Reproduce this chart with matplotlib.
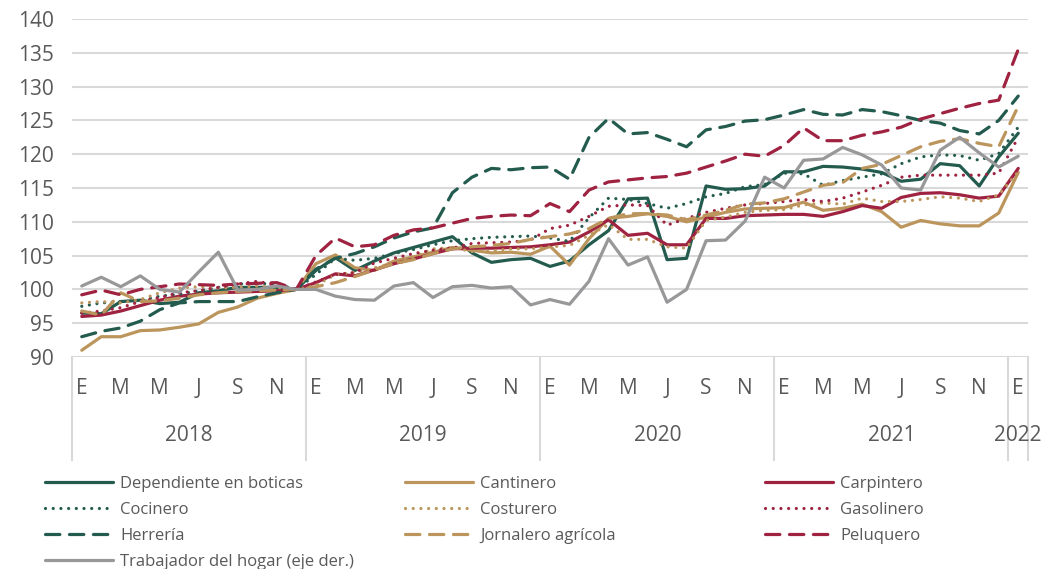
import numpy as np
import matplotlib
matplotlib.use('Agg')
import matplotlib.pyplot as plt

plt.rcParams['font.family'] = ['Open Sans', 'DejaVu Sans']

# meses 2018-01 ... 2022-01 (indice dic 2018 = 100)
meses = ['E', 'F', 'M', 'A', 'M', 'J', 'J', 'A', 'S', 'O', 'N', 'D'] * 4 + ['E']
anios = ['2018', '2019', '2020', '2021', '2022']

dependiente = [96.5, 96.4, 98.2, 98.4, 97.9, 98.1, 99.5, 99.8, 100.3, 100.3, 100.3, 100.0,
               102.8, 104.7, 102.8, 104.2, 105.4, 106.2, 107.0, 107.8, 105.4, 104.0, 104.4, 104.6,
               103.4, 104.2, 106.6, 108.7, 113.4, 113.5, 104.4, 104.6, 115.3, 114.8, 114.9, 115.3,
               117.4, 117.4, 118.2, 118.1, 117.8, 117.3, 116.0, 116.3, 118.6, 118.3, 115.3, 119.6, 123.1]
cantinero = [91.0, 93.0, 93.0, 93.9, 94.0, 94.4, 94.9, 96.6, 97.4, 98.7, 99.4, 100.0,
             103.8, 105.1, 103.2, 102.8, 104.2, 104.8, 105.5, 106.2, 105.8, 105.4, 105.5, 105.2,
             106.4, 103.6, 107.5, 110.5, 110.8, 111.2, 110.8, 110.0, 110.7, 111.4, 111.9, 112.0,
             112.1, 112.9, 111.7, 112.0, 112.6, 111.5, 109.2, 110.2, 109.7, 109.4, 109.4, 111.3, 117.3]
carpintero = [96.0, 96.2, 96.8, 97.6, 98.4, 99.0, 99.3, 99.5, 99.6, 99.7, 99.8, 100.0,
              101.0, 102.3, 102.0, 102.9, 103.8, 104.5, 105.3, 106.0, 106.1, 106.1, 106.2, 106.3,
              106.6, 107.0, 108.5, 110.3, 108.0, 108.3, 106.6, 106.6, 110.5, 110.5, 110.9, 111.0,
              111.1, 111.1, 110.8, 111.5, 112.4, 112.0, 113.6, 114.2, 114.3, 114.0, 113.5, 113.8, 117.9]
cocinero = [97.5, 98.0, 98.2, 98.3, 99.0, 99.3, 99.8, 100.3, 100.8, 100.9, 100.8, 100.0,
            102.2, 104.6, 104.3, 104.6, 105.3, 105.9, 106.6, 107.2, 107.5, 107.7, 107.8, 107.9,
            107.6, 107.1, 110.6, 113.5, 113.3, 112.7, 112.0, 112.7, 113.7, 114.2, 115.2, 115.5,
            117.2, 117.1, 115.4, 116.1, 116.6, 117.1, 118.6, 119.6, 119.9, 119.8, 119.1, 120.1, 124.0]
costurero = [98.0, 98.2, 98.0, 98.5, 99.5, 100.2, 100.4, 100.2, 100.3, 100.5, 100.3, 100.0,
             100.6, 102.2, 102.5, 103.2, 103.8, 104.8, 106.0, 106.2, 105.6, 105.7, 106.0, 106.0,
             106.3, 106.5, 108.0, 109.6, 107.4, 107.4, 106.3, 106.1, 110.2, 110.7, 111.4, 111.7,
             111.8, 112.5, 112.8, 112.6, 113.5, 113.0, 113.0, 113.3, 113.7, 113.5, 113.0, 114.0, 117.4]
gasolinero = [96.5, 96.8, 97.3, 98.2, 98.8, 99.5, 99.8, 100.3, 100.8, 101.2, 100.6, 100.0,
              101.1, 102.2, 102.5, 103.9, 104.6, 105.3, 105.8, 106.1, 106.8, 106.9, 107.0, 107.3,
              109.0, 109.5, 110.8, 112.3, 112.5, 112.4, 109.5, 110.5, 111.4, 112.0, 112.5, 112.7,
              113.0, 113.3, 113.0, 113.5, 114.4, 115.4, 116.6, 116.9, 116.9, 116.9, 116.9, 117.2, 122.5]
herreria = [93.0, 93.8, 94.3, 95.3, 97.0, 98.0, 98.2, 98.2, 98.2, 98.9, 99.5, 100.0,
            103.0, 104.6, 105.3, 106.3, 107.6, 108.5, 109.1, 114.3, 116.6, 117.9, 117.7, 118.0,
            118.1, 116.3, 122.5, 125.3, 123.0, 123.2, 122.2, 121.1, 123.6, 124.1, 124.9, 125.1,
            125.8, 126.6, 125.9, 125.8, 126.6, 126.3, 125.7, 125.0, 124.6, 123.5, 123.0, 125.0, 128.6]
jornalero = [96.8, 96.2, 99.5, 98.2, 98.3, 98.7, 99.2, 99.5, 99.7, 99.8, 99.9, 100.0,
             100.4, 101.0, 101.9, 102.9, 103.8, 104.4, 105.3, 106.0, 106.3, 106.5, 106.8, 107.4,
             107.8, 108.2, 109.0, 110.5, 111.2, 111.2, 111.0, 110.3, 111.0, 111.7, 112.6, 112.8,
             113.4, 114.4, 115.4, 115.8, 117.9, 118.5, 119.8, 121.1, 121.9, 122.3, 121.6, 121.1, 127.1]
peluquero = [99.2, 99.9, 99.2, 100.0, 100.4, 100.8, 100.7, 100.6, 100.8, 100.9, 101.0, 100.0,
             105.0, 107.6, 106.3, 106.6, 108.0, 108.8, 109.1, 109.8, 110.5, 110.8, 111.0, 110.9,
             112.7, 111.5, 114.7, 115.9, 116.2, 116.5, 116.7, 117.2, 118.1, 119.0, 120.0, 119.7,
             121.3, 123.9, 122.0, 122.0, 122.8, 123.3, 124.0, 125.2, 126.0, 126.8, 127.5, 128.0, 135.5]
hogar = [100.5, 101.8, 100.4, 102.0, 100.0, 99.6, 102.6, 105.5, 99.9, 100.0, 100.5, 100.0,
         100.0, 99.0, 98.5, 98.4, 100.5, 101.0, 98.8, 100.4, 100.6, 100.2, 100.4, 97.7,
         98.5, 97.8, 101.2, 107.5, 103.6, 104.8, 98.1, 100.0, 107.2, 107.3, 110.1, 116.6,
         115.0, 119.1, 119.3, 121.0, 119.9, 118.4, 115.0, 114.7, 120.6, 122.5, 120.2, 118.1, 119.7]

verde = '#235B4E'
dorado = '#BC955C'
guinda = '#9F2241'
gris = '#98989A'
texto = '#595959'

solida = None
punteada = (0.01, 2.4)
rayada = (4.5, 3)

series = [
    ('Dependiente en boticas', dependiente, verde, solida),
    ('Cantinero', cantinero, dorado, solida),
    ('Carpintero', carpintero, guinda, solida),
    ('Cocinero', cocinero, verde, punteada),
    ('Costurero', costurero, dorado, punteada),
    ('Gasolinero', gasolinero, guinda, punteada),
    ('Herrería', herreria, verde, rayada),
    ('Jornalero agrícola', jornalero, dorado, rayada),
    ('Peluquero', peluquero, guinda, rayada),
    ('Trabajador del hogar (eje der.)', hogar, gris, solida),
]

fig = plt.figure(figsize=(10.52, 5.69), dpi=100)
ax = fig.add_axes([72 / 1052, 1 - 357 / 569, (1028 - 72) / 1052, (357 - 19) / 569])

x = np.arange(len(meses))
lineas = {}
for nombre, valores, color, estilo in series:
    if estilo is None:
        ln, = ax.plot(x, valores, color=color, lw=2.3, solid_capstyle='round', label=nombre)
    else:
        ln, = ax.plot(x, valores, color=color, lw=2.3, dashes=estilo,
                      dash_capstyle='round', label=nombre)
    lineas[nombre] = ln

ax.set_xlim(-0.5, len(meses) - 0.5)
ax.set_ylim(90, 140)
ax.set_yticks(range(90, 141, 5))
ax.yaxis.grid(True, color='#d9d9d9', lw=1.5)
ax.set_axisbelow(True)
for s in ax.spines.values():
    s.set_visible(False)
ax.tick_params(axis='y', length=0, pad=13, labelsize=15, labelcolor=texto)

pos = list(range(0, len(meses), 2))
ax.set_xticks(pos)
ax.set_xticklabels([meses[i] for i in pos])
ax.tick_params(axis='x', length=0, pad=15, labelsize=15, labelcolor=texto)

# separadores y etiquetas de año
bordes = [-0.5, 11.5, 23.5, 35.5, 47.5, 48.5]
for b in bordes:
    ax.plot([b, b], [0, -0.305], transform=ax.get_xaxis_transform(),
            color='#d9d9d9', lw=1.5, clip_on=False)
for i, a in enumerate(anios):
    centro = (bordes[i] + bordes[i + 1]) / 2
    ax.text(centro, -0.231, a, transform=ax.get_xaxis_transform(),
            ha='center', va='center', fontsize=15, color=texto)

columnas = [
    ['Dependiente en boticas', 'Cocinero', 'Herrería', 'Trabajador del hogar (eje der.)'],
    ['Cantinero', 'Costurero', 'Jornalero agrícola'],
    ['Carpintero', 'Gasolinero', 'Peluquero'],
]
for xc, nombres in zip([45, 405, 765], columnas):
    fig.legend([lineas[n] for n in nombres], nombres, loc='upper left',
               bbox_to_anchor=(xc / 1052, 1 - 476 / 569), frameon=False,
               fontsize=12, labelcolor=texto, handlelength=4.1, handletextpad=0.42,
               labelspacing=0.6, borderpad=0, borderaxespad=0)

fig.savefig('out.png', dpi=100)
